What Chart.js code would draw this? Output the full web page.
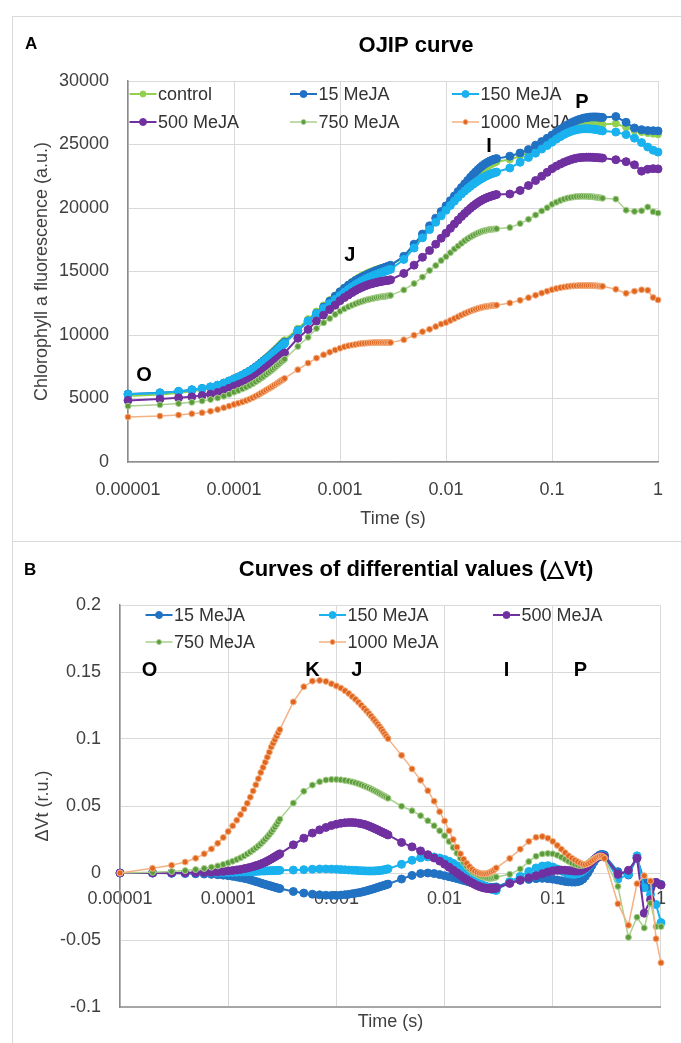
<!DOCTYPE html>
<html>
<head>
<meta charset="utf-8">
<script src="https://cdn.jsdelivr.net/npm/chart.js@4.4.1/dist/chart.umd.min.js"></script>
<style>
  html, body { margin: 0; padding: 0; background: #fff; }
  #fig { position: relative; width: 681px; height: 1043px; overflow: hidden; }
  #fig canvas { position: absolute; left: 0; }
  .frame { position: absolute; border: 1px solid #d9d9d9; box-sizing: border-box; }
</style>
</head>
<body>
<div id="fig">
  <div class="frame" style="left:12px;top:16px;width:700px;height:1060px;border-width:1px 0 0 1px"></div>
  <div class="frame" style="left:12px;top:541px;width:700px;height:1px;border-width:1px 0 0 0"></div>
  <canvas id="chartA" width="681" height="540" style="top:0"></canvas>
  <canvas id="chartB" width="681" height="503" style="top:540px"></canvas>
</div>
<script>
const FONT = '"Liberation Sans", Arial, sans-serif';
Chart.defaults.font.family = FONT;
Chart.defaults.font.size = 18;
Chart.defaults.color = '#404040';

// measurement times (s): 10 us steps, 100 us steps, 1 ms steps, 10 ms steps, 100 ms steps
const timeS = [
  0.00001, 0.00002, 0.00003, 0.00004, 0.00005, 0.00006, 0.00007, 0.00008, 0.00009, 0.0001,
  0.00011, 0.00012, 0.00013, 0.00014, 0.00015, 0.00016, 0.00017, 0.00018, 0.00019, 0.0002,
  0.00021, 0.00022, 0.00023, 0.00024, 0.00025, 0.00026, 0.00027, 0.00028, 0.00029, 0.0003,
  0.0004, 0.0005, 0.0006, 0.0007, 0.0008, 0.0009, 0.001,
  0.0011, 0.0012, 0.0013, 0.0014, 0.0015, 0.0016, 0.0017, 0.0018, 0.0019, 0.002,
  0.0021, 0.0022, 0.0023, 0.0024, 0.0025, 0.0026, 0.0027, 0.0028, 0.0029, 0.003,
  0.004, 0.005, 0.006, 0.007, 0.008, 0.009, 0.01,
  0.011, 0.012, 0.013, 0.014, 0.015, 0.016, 0.017, 0.018, 0.019, 0.02,
  0.021, 0.022, 0.023, 0.024, 0.025, 0.026, 0.027, 0.028, 0.029, 0.03,
  0.04, 0.05, 0.06, 0.07, 0.08, 0.09, 0.1,
  0.11, 0.12, 0.13, 0.14, 0.15, 0.16, 0.17, 0.18, 0.19, 0.2,
  0.21, 0.22, 0.23, 0.24, 0.25, 0.26, 0.27, 0.28, 0.29, 0.3,
  0.4, 0.5, 0.6, 0.7, 0.8, 0.9, 1
];

const xTickValues = [0.00001, 0.0001, 0.001, 0.01, 0.1, 1];
const xTickLabels = ['0.00001', '0.0001', '0.001', '0.01', '0.1', '1'];

// ---- panel A: OJIP fluorescence (a.u.) ----
const seriesNamesA = ['control', '15 MeJA', '150 MeJA', '500 MeJA', '750 MeJA', '1000 MeJA'];
const controlA = [
  5200, 5320, 5440, 5570, 5690, 5820, 5970, 6140, 6320, 6500,
  6670, 6840, 7010, 7180, 7350, 7520, 7690, 7860, 8030, 8190,
  8340, 8490, 8640, 8790, 8930, 9070, 9210, 9340, 9470, 9590,
  10500, 11250, 11850, 12330, 12750, 13120, 13450,
  13730, 13980, 14190, 14370, 14520, 14650, 14760, 14860, 14950, 15020,
  15090, 15150, 15200, 15250, 15290, 15330, 15370, 15410, 15450, 15480,
  16150, 17050, 17800, 18430, 19000, 19500, 19950,
  20340, 20700, 21030, 21330, 21600, 21850, 22080, 22290, 22480, 22650,
  22810, 22950, 23080, 23190, 23290, 23380, 23460, 23530, 23590, 23650,
  23820, 24080, 24380, 24710, 24970, 25230, 25480,
  25720, 25930, 26100, 26240, 26350, 26440, 26510, 26560, 26600, 26620,
  26630, 26640, 26640, 26640, 26630, 26620, 26610, 26600, 26590, 26580,
  26650, 26350, 26100, 25980, 25900, 25850, 25800
];
const meja15A = [
  5350, 5450, 5560, 5680, 5790, 5910, 6050, 6210, 6380, 6550,
  6700, 6850, 7010, 7160, 7320, 7480, 7640, 7800, 7960, 8110,
  8250, 8390, 8530, 8670, 8800, 8930, 9060, 9190, 9310, 9430,
  10350, 11100, 11700, 12200, 12650, 13050, 13400,
  13680, 13920, 14120, 14290, 14430, 14550, 14660, 14760, 14850, 14930,
  15000, 15070, 15130, 15190, 15240, 15290, 15340, 15390, 15440, 15490,
  16200, 17150, 17950, 18600, 19200, 19720, 20170,
  20580, 20950, 21300, 21620, 21900, 22170, 22420, 22640, 22840, 23020,
  23180, 23320, 23440, 23540, 23630, 23700, 23760, 23810, 23850, 23890,
  24080, 24330, 24600, 24950, 25230, 25490, 25740,
  25990, 26210, 26400, 26560, 26690, 26800, 26890, 26970, 27030, 27080,
  27110, 27140, 27160, 27170, 27170, 27170, 27160, 27150, 27140, 27130,
  27200, 26750, 26300, 26170, 26100, 26090, 26070
];
const meja150A = [
  5330, 5440, 5560, 5690, 5790, 5910, 6040, 6210, 6380, 6540,
  6690, 6840, 6990, 7130, 7280, 7430, 7590, 7750, 7900, 8050,
  8190, 8330, 8460, 8590, 8710, 8840, 8970, 9100, 9220, 9340,
  10340, 11100, 11680, 12100, 12470, 12800, 13100,
  13370, 13600, 13800, 13970, 14120, 14250, 14360, 14460, 14550, 14630,
  14700, 14770, 14830, 14890, 14940, 14990, 15040, 15090, 15130, 15170,
  15950, 16850, 17650, 18300, 18880, 19380, 19820,
  20200, 20540, 20840, 21100, 21330, 21530, 21710, 21870, 22010, 22140,
  22250, 22350, 22440, 22520, 22590, 22650, 22700, 22750, 22790, 22830,
  23150, 23600, 23980, 24320, 24640, 24920, 25180,
  25420, 25620, 25790, 25920, 26020, 26100, 26160, 26200, 26230, 26240,
  26240, 26240, 26230, 26220, 26200, 26180, 26160, 26130, 26100, 26070,
  25980, 25780, 25500, 25150, 24800, 24550, 24400
];
const meja500A = [
  4850, 4960, 5050, 5130, 5230, 5340, 5470, 5630, 5800, 5970,
  6100, 6230, 6360, 6490, 6620, 6770, 6920, 7080, 7240, 7400,
  7540, 7670, 7800, 7930, 8050, 8160, 8270, 8380, 8480, 8580,
  9740, 10440, 11100, 11560, 12000, 12350, 12700,
  12950, 13150, 13340, 13500, 13640, 13750, 13840, 13920, 13990, 14040,
  14090, 14130, 14170, 14200, 14230, 14260, 14280, 14300, 14320, 14350,
  14850, 15500, 16120, 16650, 17150, 17620, 18020,
  18400, 18740, 19050, 19330, 19570, 19790, 19980, 20150, 20300, 20430,
  20540, 20640, 20720, 20790, 20850, 20900, 20950, 20990, 21030, 21060,
  21100, 21380, 21770, 22160, 22500, 22810, 23100,
  23300, 23460, 23600, 23710, 23800, 23870, 23920, 23960, 23980, 23990,
  24000, 24000, 24000, 23990, 23980, 23970, 23960, 23950, 23940, 23930,
  23800, 23650, 23400, 22900, 23050, 23100, 23080
];
const meja750A = [
  4400, 4500, 4600, 4700, 4810, 4920, 5040, 5180, 5330, 5500,
  5630, 5760, 5890, 6030, 6170, 6310, 6450, 6600, 6740, 6880,
  7010, 7140, 7270, 7400, 7530, 7650, 7770, 7890, 8000, 8100,
  9100, 9820, 10520, 10960, 11300, 11620, 11870,
  12060, 12220, 12350, 12460, 12560, 12640, 12710, 12770, 12820, 12860,
  12900, 12940, 12970, 13000, 13020, 13040, 13060, 13080, 13100, 13120,
  13550, 14050, 14560, 15080, 15470, 15860, 16170,
  16480, 16770, 17000, 17220, 17420, 17580, 17720, 17840, 17940, 18030,
  18100, 18160, 18210, 18250, 18280, 18300, 18320, 18340, 18350, 18360,
  18460, 18770, 19110, 19450, 19770, 20020, 20290,
  20460, 20600, 20700, 20780, 20830, 20870, 20900, 20910, 20920, 20920,
  20920, 20910, 20900, 20890, 20870, 20850, 20830, 20810, 20790, 20770,
  20700, 19830, 19730, 19780, 20080, 19700, 19600
];
const meja1000A = [
  3540, 3620, 3700, 3800, 3880, 4000, 4130, 4270, 4400, 4530,
  4630, 4730, 4840, 4950, 5060, 5180, 5300, 5420, 5540, 5650,
  5750, 5850, 5950, 6050, 6150, 6240, 6330, 6420, 6500, 6580,
  7270, 7790, 8180, 8440, 8650, 8820, 8960,
  9070, 9150, 9210, 9260, 9300, 9330, 9350, 9370, 9380, 9390,
  9400, 9400, 9400, 9400, 9400, 9400, 9400, 9400, 9400, 9400,
  9620, 9980, 10260, 10450, 10660, 10860, 10980,
  11150, 11300, 11440, 11570, 11690, 11790, 11880, 11960, 12030, 12090,
  12140, 12180, 12220, 12250, 12270, 12290, 12310, 12330, 12340, 12350,
  12520, 12730, 12940, 13130, 13300, 13450, 13570,
  13660, 13730, 13780, 13820, 13850, 13870, 13880, 13890, 13900, 13900,
  13900, 13900, 13900, 13890, 13880, 13870, 13860, 13850, 13840, 13830,
  13600, 13280, 13450, 13560, 13520, 12950, 12760
];
const phaseLabelsA = ['O', 'J', 'I', 'P'];
const phaseTimesA = [0.0000142, 0.00124, 0.0254, 0.1915];
const phaseValuesA = [6840, 16300, 24870, 28300];

// ---- panel B: differential curves dVt (r.u.) ----
const seriesNamesB = ['15 MeJA', '150 MeJA', '500 MeJA', '750 MeJA', '1000 MeJA'];
const meja15B = [
  0, 0, -0.0002, -0.0004, -0.0006, -0.0008, -0.001, -0.0013, -0.0016, -0.002,
  -0.0025, -0.003, -0.0035, -0.004, -0.0045, -0.0051, -0.0057, -0.0063, -0.0069, -0.0075,
  -0.008, -0.0085, -0.009, -0.0094, -0.0098, -0.0102, -0.0106, -0.011, -0.0113, -0.0116,
  -0.0138, -0.015, -0.0158, -0.0163, -0.0166, -0.0167, -0.0167,
  -0.0165, -0.0162, -0.0159, -0.0155, -0.0151, -0.0147, -0.0143, -0.0138, -0.0133, -0.0128,
  -0.0123, -0.0118, -0.0113, -0.0108, -0.0103, -0.0099, -0.0095, -0.0091, -0.0087, -0.0083,
  -0.0045, -0.0018, -0.0004, 0, -0.0004, -0.0012, -0.002,
  -0.0028, -0.0035, -0.0042, -0.0049, -0.0056, -0.0062, -0.0068, -0.0074, -0.008, -0.0085,
  -0.009, -0.0094, -0.0098, -0.0101, -0.0104, -0.0106, -0.0107, -0.0107, -0.0106, -0.0104,
  -0.0065, -0.0055, -0.0048, -0.0042, -0.004, -0.0042, -0.0046,
  -0.0052, -0.0058, -0.0063, -0.0066, -0.0068, -0.0068, -0.0065, -0.0058, -0.0045, -0.0025,
  0, 0.0028, 0.0057, 0.0083, 0.0105, 0.0122, 0.0133, 0.0138, 0.0138, 0.0134,
  0.001, -0.0015, 0.0115, -0.006, -0.011, -0.007, -0.0085
];
const meja150B = [
  0, 0, 0, 0, 0, 0.0001, 0.0002, 0.0002, 0.0003, 0.0004,
  0.0005, 0.0006, 0.0007, 0.0008, 0.0009, 0.001, 0.0011, 0.0012, 0.0013, 0.0014,
  0.0015, 0.0015, 0.0016, 0.0017, 0.0017, 0.0018, 0.0018, 0.0019, 0.0019, 0.002,
  0.0022, 0.0025, 0.0028, 0.003, 0.003, 0.0029, 0.0028,
  0.0026, 0.0024, 0.0022, 0.0021, 0.002, 0.0018, 0.0017, 0.0016, 0.0015, 0.0015,
  0.0015, 0.0015, 0.0016, 0.0017, 0.0018, 0.002, 0.0022, 0.0025, 0.0028, 0.0031,
  0.0065, 0.0095, 0.0113, 0.012, 0.012, 0.0112, 0.0101,
  0.0088, 0.0072, 0.0054, 0.0035, 0.0016, -0.0002, -0.0019, -0.0035, -0.005, -0.0063,
  -0.0075, -0.0085, -0.0094, -0.0102, -0.0109, -0.0115, -0.012, -0.0124, -0.0127, -0.013,
  -0.0065, -0.0025, 0.0012, 0.0038, 0.0052, 0.0055, 0.0045,
  0.003, 0.0015, 0.0003, -0.0006, -0.001, -0.001, -0.0006, 0.0002, 0.0013, 0.0028,
  0.0045, 0.0063, 0.008, 0.0095, 0.0108, 0.0118, 0.0125, 0.0128, 0.0128, 0.0125,
  -0.0045, -0.001, 0.0128, -0.011, -0.016, -0.0235, -0.037
];
const meja500B = [
  0, 0, 0, 0.0001, 0.0002, 0.0003, 0.0005, 0.0008, 0.0012, 0.0016,
  0.0019, 0.0023, 0.0027, 0.0032, 0.0037, 0.0042, 0.0048, 0.0054, 0.006, 0.0067,
  0.0074, 0.0081, 0.0089, 0.0097, 0.0105, 0.0113, 0.0121, 0.0129, 0.0136, 0.0143,
  0.021, 0.026, 0.0298, 0.0322, 0.034, 0.0354, 0.0364,
  0.0371, 0.0375, 0.0377, 0.0377, 0.0375, 0.0372, 0.0368, 0.0363, 0.0357, 0.035,
  0.0343, 0.0336, 0.0329, 0.0322, 0.0315, 0.0308, 0.0302, 0.0296, 0.029, 0.0284,
  0.0228, 0.0195, 0.0165, 0.0137, 0.0112, 0.0089, 0.0066,
  0.0043, 0.0021, 0.0001, -0.0018, -0.0035, -0.005, -0.0063, -0.0075, -0.0085, -0.0094,
  -0.0101, -0.0107, -0.0111, -0.0114, -0.0116, -0.0117, -0.0117, -0.0116, -0.0115, -0.0113,
  -0.0078, -0.0053, -0.0036, -0.002, -0.0005, 0.0008, 0.0016,
  0.002, 0.0022, 0.0021, 0.0019, 0.0016, 0.0014, 0.0014, 0.0017, 0.0025, 0.0037,
  0.0052, 0.0069, 0.0085, 0.0099, 0.011, 0.0119, 0.0124, 0.0126, 0.0125, 0.0121,
  -0.001, 0.002, 0.011, -0.03, -0.02, -0.007, -0.009
];
const meja750B = [
  0, 0.0005, 0.0011, 0.0018, 0.0026, 0.0034, 0.0043, 0.0053, 0.0064, 0.0076,
  0.0088, 0.01, 0.0113, 0.0127, 0.0142, 0.0157, 0.0172, 0.0187, 0.0202, 0.0218,
  0.0235, 0.0252, 0.0269, 0.0287, 0.0305, 0.0324, 0.0343, 0.0362, 0.0382, 0.0402,
  0.0522, 0.061, 0.0656, 0.0681, 0.0694, 0.0698, 0.0698,
  0.0695, 0.0691, 0.0686, 0.068, 0.0673, 0.0666, 0.0658, 0.065, 0.0642, 0.0634,
  0.0626, 0.0618, 0.061, 0.0602, 0.0594, 0.0586, 0.0579, 0.0572, 0.0565, 0.0558,
  0.0498, 0.0465, 0.0428, 0.039, 0.0353, 0.0315, 0.0278,
  0.0235, 0.019, 0.0148, 0.011, 0.0078, 0.005, 0.0028, 0.001, -0.0002, -0.0012,
  -0.002, -0.0027, -0.0032, -0.0036, -0.0039, -0.004, -0.004, -0.0038, -0.0034, -0.003,
  -0.001, 0.003, 0.0085, 0.0125, 0.0142, 0.0146, 0.0143,
  0.0133, 0.0118, 0.0102, 0.0087, 0.0074, 0.0064, 0.0058, 0.0056, 0.0058, 0.0064,
  0.0073, 0.0084, 0.0095, 0.0105, 0.0113, 0.0119, 0.0122, 0.0122, 0.0119, 0.0113,
  -0.01, -0.048, -0.033, -0.041, -0.0225, -0.04, -0.04
];
const meja1000B = [
  0, 0.0035, 0.0058, 0.0082, 0.011, 0.0143, 0.018, 0.0222, 0.0265, 0.031,
  0.0352, 0.0394, 0.0436, 0.0478, 0.052, 0.0566, 0.0612, 0.0658, 0.0704, 0.075,
  0.0788, 0.0826, 0.0864, 0.0902, 0.094, 0.0968, 0.0995, 0.1021, 0.1046, 0.107,
  0.1277, 0.139, 0.1432, 0.1437, 0.143, 0.1412, 0.1396,
  0.138, 0.136, 0.134, 0.1317, 0.1296, 0.1274, 0.1252, 0.123, 0.121, 0.119,
  0.117, 0.115, 0.113, 0.1112, 0.1094, 0.1075, 0.1056, 0.1038, 0.102, 0.1003,
  0.0878, 0.0777, 0.0693, 0.0614, 0.0536, 0.0457, 0.0388,
  0.0315, 0.025, 0.0193, 0.0143, 0.0103, 0.0072, 0.0047, 0.0027, 0.0013, 0.0004,
  -0.0002, -0.0005, -0.0006, -0.0005, -0.0002, 0.0003, 0.0009, 0.0017, 0.0027, 0.0038,
  0.0109, 0.0178, 0.0236, 0.0266, 0.0272, 0.026, 0.0236,
  0.0206, 0.0178, 0.0152, 0.0128, 0.011, 0.0096, 0.0084, 0.0073, 0.0066, 0.0064,
  0.0069, 0.0078, 0.0089, 0.0101, 0.0112, 0.0121, 0.0126, 0.0127, 0.0122, 0.0109,
  -0.023, -0.039, -0.008, -0.002, -0.006, -0.049, -0.067
];
const phaseLabelsB = ['O', 'K', 'J', 'I', 'P'];
const phaseTimesB = [0.0000187, 0.0006, 0.00154, 0.0374, 0.18];
const phaseValuesB = [0.151, 0.151, 0.151, 0.151, 0.151];

// series look, keyed by name
const styles = {
  'control':   { line: '#92D050', fill: '#92D050', edge: '#92D050', r: 3.5, w: 2 },
  '15 MeJA':   { line: '#2272C3', fill: '#2272C3', edge: '#2272C3', r: 4,   w: 2 },
  '150 MeJA':  { line: '#19B2EE', fill: '#19B2EE', edge: '#19B2EE', r: 4,   w: 2 },
  '500 MeJA':  { line: '#7030A0', fill: '#7030A0', edge: '#7030A0', r: 4,   w: 2 },
  '750 MeJA':  { line: '#A9D18E', fill: '#5C9B3C', edge: '#A9D18E', r: 3,   w: 1.5 },
  '1000 MeJA': { line: '#F4B183', fill: '#E0661F', edge: '#F4B183', r: 3,   w: 1.5 }
};

function makeDatasets(names, valueLists) {
  return names.map((name, i) => {
    const s = styles[name];
    return {
      label: name,
      data: timeS.map((t, k) => ({ x: t, y: valueLists[i][k] })),
      borderColor: s.line,
      borderWidth: s.w,
      pointRadius: s.r,
      pointBorderWidth: 1,
      pointBackgroundColor: s.fill,
      pointBorderColor: s.edge,
      order: names.length - i,
      clip: 8
    };
  });
}

// titles, panel letter, phase letters, in-plot legend
const decorations = {
  id: 'decorations',
  beforeDatasetsDraw(chart, args, o) {
    const ctx = chart.ctx;
    ctx.save();
    ctx.font = '18px ' + FONT;
    ctx.textBaseline = 'middle';
    ctx.textAlign = 'left';
    chart.data.datasets.forEach((ds, i) => {
      const [x, y] = o.slots[i];
      ctx.strokeStyle = ds.borderColor;
      ctx.lineWidth = ds.borderWidth;
      ctx.beginPath(); ctx.moveTo(x, y); ctx.lineTo(x + 27, y); ctx.stroke();
      ctx.beginPath(); ctx.arc(x + 13.5, y, ds.pointRadius - 0.5, 0, Math.PI * 2);
      ctx.fillStyle = ds.pointBackgroundColor; ctx.fill();
      ctx.lineWidth = 1; ctx.strokeStyle = ds.pointBorderColor; ctx.stroke();
      ctx.fillStyle = '#333';
      ctx.fillText(ds.label, x + 28.5, y + 1);
    });
    ctx.restore();
  },
  afterDraw(chart, args, o) {
    const ctx = chart.ctx;
    ctx.save();
    ctx.fillStyle = '#000';
    ctx.textBaseline = 'middle';
    ctx.textAlign = 'left';
    ctx.font = 'bold 17px ' + FONT;
    ctx.fillText(o.letter, o.letterPos[0], o.letterPos[1]);
    ctx.textAlign = 'center';
    ctx.font = 'bold 22px ' + FONT;
    ctx.fillText(o.title, o.titlePos[0], o.titlePos[1]);
    ctx.font = 'bold 20px ' + FONT;
    const xs = chart.scales.x, ys = chart.scales.y;
    o.phases.labels.forEach((lab, i) => {
      ctx.fillText(lab, xs.getPixelForValue(o.phases.t[i]), ys.getPixelForValue(o.phases.v[i]));
    });
    ctx.restore();
  }
};

const fixDecades = s => { s.ticks = xTickValues.map(v => ({ value: v })); };
const grid = { color: '#d9d9d9', lineWidth: 1, drawTicks: false };

new Chart(document.getElementById('chartA'), {
  type: 'line',
  data: { datasets: makeDatasets(seriesNamesA, [controlA, meja15A, meja150A, meja500A, meja750A, meja1000A]) },
  options: {
    responsive: false,
    animation: false,
    layout: { padding: { left: 0, right: 23, top: 81, bottom: 8 } },
    plugins: {
      legend: { display: false },
      tooltip: { enabled: false },
      decorations: {
        letter: 'A', letterPos: [25, 44],
        title: 'OJIP curve', titlePos: [416, 46],
        slots: [[129.5, 94], [290, 94], [452, 94], [129.5, 122], [290, 122], [452, 122]],
        phases: { labels: phaseLabelsA, t: phaseTimesA, v: phaseValuesA }
      }
    },
    scales: {
      x: {
        type: 'logarithmic', min: 0.00001, max: 1,
        afterBuildTicks: fixDecades,
        afterFit: s => { s.height = 70; },
        ticks: { autoSkip: false, maxRotation: 0, padding: 17, callback: (v, i) => xTickLabels[i] },
        grid: grid,
        border: { color: '#8c8c8c', width: 1.5 },
        title: { display: true, text: 'Time (s)', padding: { top: 0, bottom: 2 } }
      },
      y: {
        min: 0, max: 30000,
        afterFit: s => { s.width = 128; },
        ticks: { stepSize: 5000, padding: 19, callback: v => String(v) },
        grid: grid,
        border: { color: '#8c8c8c', width: 1.5 },
        title: { display: true, text: 'Chlorophyll a fluorescence (a.u.)', padding: { top: 31, bottom: 0 } }
      }
    }
  },
  plugins: [decorations]
});

new Chart(document.getElementById('chartB'), {
  type: 'line',
  data: { datasets: makeDatasets(seriesNamesB, [meja15B, meja150B, meja500B, meja750B, meja1000B]) },
  options: {
    responsive: false,
    animation: false,
    layout: { padding: { left: 0, right: 20, top: 65, bottom: 4 } },
    plugins: {
      legend: { display: false },
      tooltip: { enabled: false },
      decorations: {
        letter: 'B', letterPos: [24, 30],
        title: 'Curves of differential values (\u25B3Vt)', titlePos: [416, 30],
        slots: [[145.5, 75], [319, 75], [493, 75], [145.5, 102], [319, 102]],
        phases: { labels: phaseLabelsB, t: phaseTimesB, v: phaseValuesB }
      }
    },
    scales: {
      x: {
        type: 'logarithmic', min: 0.00001, max: 1,
        afterBuildTicks: fixDecades,
        afterFit: s => { s.height = 32; },
        ticks: { display: false },
        grid: grid,
        border: { color: '#a6a6a6', width: 2 },
        title: { display: true, text: 'Time (s)', padding: { top: 0, bottom: 6 } }
      },
      x2: {
        type: 'logarithmic', min: 0.00001, max: 1,
        position: { y: 0 },
        afterBuildTicks: fixDecades,
        ticks: { autoSkip: false, maxRotation: 0, padding: 15, callback: (v, i) => xTickLabels[i] },
        grid: { display: false, drawTicks: false },
        border: { display: false }
      },
      y: {
        min: -0.1, max: 0.2,
        afterFit: s => { s.width = 120; },
        ticks: { stepSize: 0.05, padding: 19, callback: v => String(Math.round(v * 100) / 100) },
        grid: grid,
        border: { color: '#8c8c8c', width: 1.5 },
        title: { display: true, text: '\u0394Vt (r.u.)', padding: { top: 32, bottom: 0 } }
      }
    }
  },
  plugins: [decorations]
});
</script>
</body>
</html>
